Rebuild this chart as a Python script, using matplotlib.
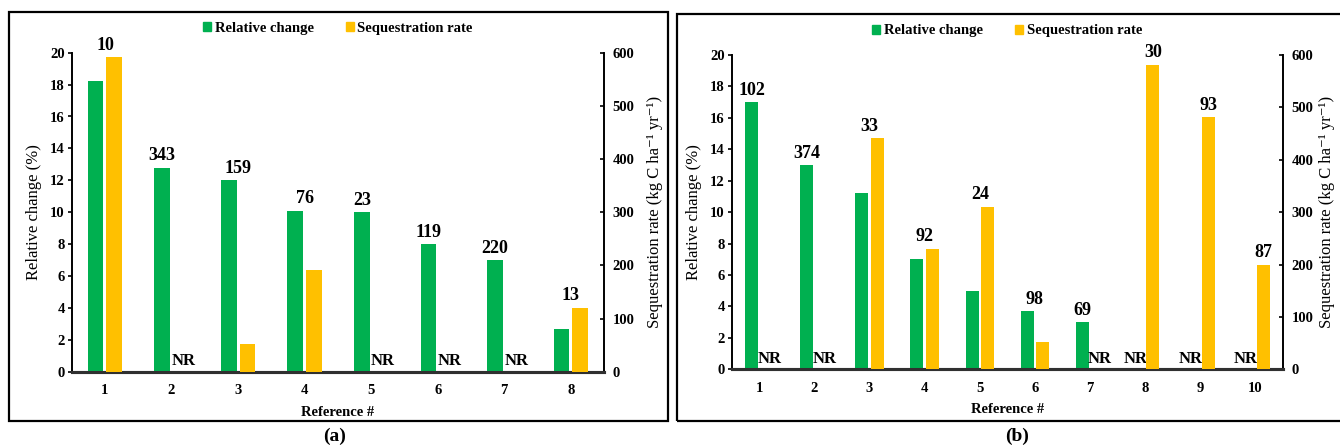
import numpy as np
import matplotlib
matplotlib.use("Agg")
import matplotlib.pyplot as plt
from matplotlib.patches import Patch, Rectangle

# ---------------- data ----------------
cats_a = ['1', '2', '3', '4', '5', '6', '7', '8']
rel_a = [18.2, 12.8, 12.0, 10.1, 10.0, 8.0, 7.0, 2.7]
seq_a = [591, np.nan, 53, 191, np.nan, np.nan, np.nan, 120]
lab_a = ['10', '343', '159', '76', '23', '119', '220', '13']

cats_b = ['1', '2', '3', '4', '5', '6', '7', '8', '9', '10']
rel_b = [17.0, 13.0, 11.2, 7.0, 5.0, 3.7, 3.0, np.nan, np.nan, np.nan]
seq_b = [np.nan, np.nan, 441, 230, 310, 52, np.nan, 581, 481, 200]
lab_b = ['102', '374', '33', '92', '24', '98', '69', '30', '93', '87']

series_names = ['Relative change', 'Sequestration rate']
left_label = 'Relative change (%)'
right_label = 'Sequestration rate (kg C ha⁻¹ yr⁻¹)'
x_label = 'Reference #'
panel_labels = ['(a)', '(b)']

GREEN = '#00B050'
YELLOW = '#FFC000'

FAM = ['Liberation Serif', 'DejaVu Serif']
plt.rcParams['font.family'] = FAM

W, H = 1340, 448
fig = plt.figure(figsize=(W / 100, H / 100), dpi=100)


def fx(px):
    return px / W


def fy(py):
    return 1 - py / H


def panel(rect, cats, rel, seq, labs, rpad):
    ax = fig.add_axes(rect)
    ax2 = ax.twinx()
    n = len(cats)
    x = np.arange(1, n + 1)
    rel = np.array(rel, dtype=float)
    seq = np.array(seq, dtype=float)
    off, w = 0.14, 0.235
    ax.bar(x - off, rel, width=w, color=GREEN, zorder=3)
    ax2.bar(x + off, seq, width=w, color=YELLOW, zorder=3)
    ax.set_xlim(0.5, n + 0.5)
    ax.set_ylim(0, 20)
    ax2.set_ylim(0, 600)
    ax.set_yticks(np.arange(0, 21, 2))
    ax2.set_yticks(np.arange(0, 601, 100))
    ax.set_xticks(x)
    ax.set_xticklabels(cats)

    for a in (ax, ax2):
        a.spines['top'].set_visible(False)
        a.spines['bottom'].set_linewidth(2.2)
        a.spines['bottom'].set_color('#303030')
        a.spines['left'].set_linewidth(1.4)
        a.spines['right'].set_linewidth(1.4)
    ax.spines['right'].set_visible(False)
    ax2.spines['left'].set_visible(False)

    ax.tick_params(axis='x', length=0, pad=9, labelsize=10.5)
    ax.tick_params(axis='y', direction='out', length=3, width=1.2, pad=2, labelsize=10.5)
    ax2.tick_params(axis='y', direction='in', length=3, width=1.2, pad=6, labelsize=10.5)
    for t in ax.get_xticklabels() + ax.get_yticklabels() + ax2.get_yticklabels():
        t.set_fontweight('bold')

    ax.set_ylabel(left_label, fontsize=12, labelpad=6)
    ax2.set_ylabel(right_label, fontsize=12, labelpad=rpad)
    ax.set_xlabel(x_label, fontsize=10.5, fontweight='bold', labelpad=6)

    # value labels and NR marks
    for i in range(n):
        has_r = not np.isnan(rel[i])
        has_s = not np.isnan(seq[i])
        top_r = rel[i] if has_r else 0
        top_s = seq[i] * 20 / 600 if has_s else 0
        if has_r and has_s:
            lx = x[i]
        elif has_r:
            lx = x[i] - off
        else:
            lx = x[i] + off
        ax.annotate(labs[i], (lx, max(top_r, top_s)), xytext=(0, 2.5),
                    textcoords='offset points', ha='center', va='bottom',
                    fontsize=13, fontweight='bold', zorder=5)
        if not has_r:
            ax.text(x[i] - off - 0.04, 0.15, 'NR', ha='center', va='bottom',
                    fontsize=12, fontweight='bold', zorder=5)
        if not has_s:
            ax.text(x[i] + off + 0.04, 0.15, 'NR', ha='center', va='bottom',
                    fontsize=12, fontweight='bold', zorder=5)

    handles = [Patch(color=GREEN), Patch(color=YELLOW)]
    ax.legend(handles, series_names, loc='center', bbox_to_anchor=(0.5, 1.077),
              ncol=2, frameon=False, handlelength=0.55, handleheight=0.55,
              handletextpad=0.25, columnspacing=2.2,
              prop={'family': 'Liberation Serif', 'weight': 'bold', 'size': 10.5})
    return ax, ax2


# panel (a)
panel([fx(71.7), fy(371.7), fx(604 - 71.7), (371.7 - 52.7) / H], cats_a, rel_a, seq_a, lab_a, 9)
# panel (b)
panel([fx(731.7), fy(369.3), fx(1283 - 731.7), (369.3 - 55) / H], cats_b, rel_b, seq_b, lab_b, 4)

# panel frames
fig.patches.append(Rectangle((fx(9), fy(421)), fx(668 - 9), (421 - 12) / H, fill=False,
                             lw=1.6, ec='black', transform=fig.transFigure, figure=fig))
fig.patches.append(Rectangle((fx(677), fy(421)), fx(1360 - 677), (421 - 14) / H, fill=False,
                             lw=1.6, ec='black', transform=fig.transFigure, figure=fig))

fig.text(fx(335), fy(436), panel_labels[0], ha='center', va='center', fontsize=14, fontweight='bold')
fig.text(fx(1017), fy(436), panel_labels[1], ha='center', va='center', fontsize=14, fontweight='bold')

fig.savefig('out.png', dpi=100)
